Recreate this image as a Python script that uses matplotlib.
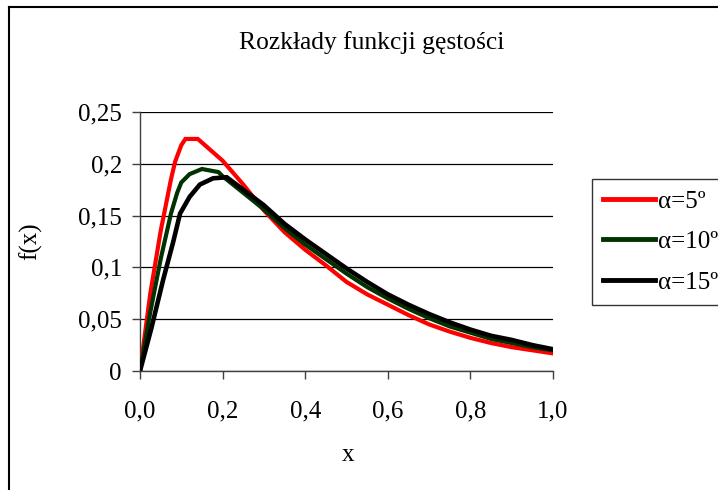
import matplotlib
matplotlib.use("Agg")
import matplotlib.pyplot as plt
from matplotlib.lines import Line2D
from matplotlib.ticker import FixedLocator, FixedFormatter

plt.rcParams['font.family'] = ['Liberation Serif', 'DejaVu Serif']

# --- data -------------------------------------------------------------
x_a5 = [0, 0.025, 0.05, 0.075, 0.085, 0.1, 0.11, 0.14, 0.2, 0.25, 0.3, 0.35, 0.4,
        0.45, 0.5, 0.55, 0.6, 0.65, 0.7, 0.75, 0.8, 0.85, 0.9, 0.95, 1.0]
y_a5 = [0, 0.075, 0.135, 0.185, 0.202, 0.218, 0.224, 0.224, 0.203, 0.18, 0.155, 0.134,
        0.117, 0.102, 0.086, 0.074, 0.064, 0.054, 0.045, 0.038, 0.032, 0.027, 0.023,
        0.020, 0.017]

x_a10 = [0, 0.025, 0.05, 0.075, 0.09, 0.1, 0.12, 0.15, 0.19, 0.2, 0.25, 0.3, 0.35, 0.4,
         0.45, 0.5, 0.55, 0.6, 0.65, 0.7, 0.75, 0.8, 0.85, 0.9, 0.95, 1.0]
y_a10 = [0, 0.057, 0.108, 0.152, 0.172, 0.182, 0.19, 0.195, 0.192, 0.188, 0.172, 0.156,
         0.138, 0.122, 0.108, 0.094, 0.081, 0.070, 0.060, 0.051, 0.043, 0.037, 0.031,
         0.027, 0.023, 0.020]

x_a15 = [0, 0.028, 0.056, 0.08, 0.097, 0.12, 0.145, 0.177, 0.21, 0.25, 0.3, 0.35, 0.4,
         0.45, 0.5, 0.55, 0.6, 0.65, 0.7, 0.75, 0.8, 0.85, 0.9, 0.95, 1.0]
y_a15 = [0, 0.042, 0.088, 0.124, 0.152, 0.168, 0.18, 0.186, 0.187, 0.175, 0.160, 0.142,
         0.127, 0.113, 0.099, 0.086, 0.074, 0.064, 0.055, 0.047, 0.040, 0.034, 0.030,
         0.025, 0.021]

series_labels = ['α=5º', 'α=10º', 'α=15º']
series_colors = ['#ff0000', '#003300', '#000000']

x_ticks = [0.0, 0.2, 0.4, 0.6, 0.8, 1.0]
x_tick_labels = ['0,0', '0,2', '0,4', '0,6', '0,8', '1,0']
y_ticks = [0, 0.05, 0.1, 0.15, 0.2, 0.25]
y_tick_labels = ['0', '0,05', '0,1', '0,15', '0,2', '0,25']

title = 'Rozkłady funkcji gęstości'
x_label = 'x'
y_label = 'f(x)'

# --- figure -----------------------------------------------------------
W, H = 718, 490
FS = 18
fig = plt.figure(figsize=(W / 100, H / 100), dpi=100)
ax = fig.add_axes([140 / W, 1 - 371 / H, (553 - 140) / W, (371 - 112) / H])

xs = [x_a5, x_a10, x_a15]
ys = [y_a5, y_a10, y_a15]
lws = [3.0, 3.0, 3.3]
handles = []
for xv, yv, lab, col, lw in zip(xs, ys, series_labels, series_colors, lws):
    h, = ax.plot(xv, yv, color=col, lw=lw, label=lab, solid_joinstyle='miter', zorder=3)
    handles.append(h)

ax.set_xlim(0, 1.0)
ax.set_ylim(0, 0.25)
ax.xaxis.set_major_locator(FixedLocator(x_ticks))
ax.xaxis.set_major_formatter(FixedFormatter(x_tick_labels))
ax.yaxis.set_major_locator(FixedLocator(y_ticks))
ax.yaxis.set_major_formatter(FixedFormatter(y_tick_labels))

for s in ['top', 'right']:
    ax.spines[s].set_visible(False)
for s in ['left', 'bottom']:
    ax.spines[s].set_color('#404040')
    ax.spines[s].set_linewidth(1.0)

ax.grid(axis='y', color='black', lw=0.9, zorder=1)
ax.set_axisbelow(True)
ax.tick_params(axis='both', direction='out', length=6, width=1, color='#404040',
               labelsize=FS)
ax.tick_params(axis='y', pad=7)
ax.tick_params(axis='x', pad=15)

fig.text(372 / W, 1 - 43 / H, title, ha='center', va='center', fontsize=FS + 0.4)
fig.text(348 / W, 1 - 455 / H, x_label, ha='center', va='center', fontsize=FS)
fig.text(31 / W, 1 - 241 / H, y_label, ha='center', va='center', fontsize=FS,
         rotation=90)

leg = fig.legend(handles=handles, labels=series_labels, loc='upper left',
                 bbox_to_anchor=(592 / W, 1 - 179 / H), bbox_transform=fig.transFigure,
                 fontsize=FS, frameon=True, fancybox=False, borderaxespad=0,
                 handlelength=2.05, handletextpad=0.14, labelspacing=0.72,
                 borderpad=0.45)
leg.get_frame().set_edgecolor('black')
leg.get_frame().set_linewidth(1.0)
for lh in leg.get_lines():
    lh.set_linewidth(3.5)

# outer chart frame (extends beyond the visible crop)
fig.add_artist(Line2D([9 / W, 9 / W], [-0.1, 1 - 7 / H], transform=fig.transFigure,
                      color='black', lw=1.5))
fig.add_artist(Line2D([9 / W, 1.1], [1 - 7 / H, 1 - 7 / H], transform=fig.transFigure,
                      color='black', lw=1.5))

fig.savefig('out.png', dpi=100, facecolor='white')
